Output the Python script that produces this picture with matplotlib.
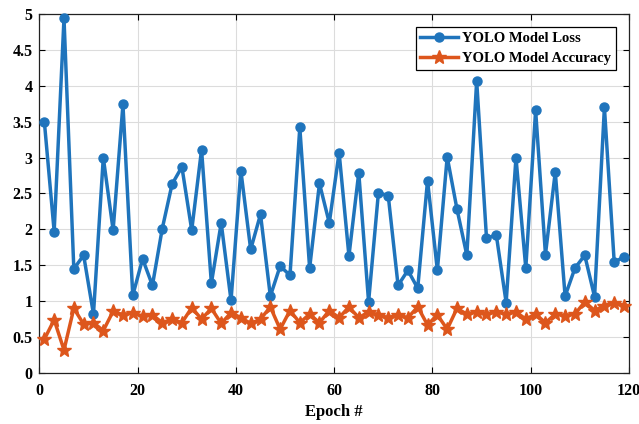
import matplotlib
matplotlib.use("Agg")
import matplotlib.pyplot as plt
from matplotlib.ticker import FuncFormatter

# epochs sampled every second epoch
epochs = list(range(1, 120, 2))

loss = [3.50, 1.97, 4.94, 1.45, 1.64, 0.82, 3.00, 1.99, 3.74, 1.08,
        1.59, 1.22, 2.01, 2.63, 2.87, 1.99, 3.11, 1.25, 2.09, 1.01,
        2.82, 1.72, 2.21, 1.07, 1.49, 1.36, 3.42, 1.46, 2.64, 2.09,
        3.07, 1.63, 2.79, 0.99, 2.51, 2.47, 1.22, 1.43, 1.18, 2.68,
        1.43, 3.01, 2.28, 1.64, 4.07, 1.88, 1.92, 0.98, 3.00, 1.46,
        3.66, 1.65, 2.80, 1.07, 1.46, 1.64, 1.06, 3.70, 1.54, 1.62]

accuracy = [0.47, 0.74, 0.32, 0.90, 0.68, 0.70, 0.59, 0.86, 0.81, 0.84,
            0.79, 0.81, 0.70, 0.75, 0.70, 0.91, 0.75, 0.90, 0.69, 0.84,
            0.77, 0.69, 0.75, 0.92, 0.61, 0.87, 0.70, 0.82, 0.70, 0.87,
            0.77, 0.92, 0.77, 0.85, 0.81, 0.77, 0.81, 0.77, 0.92, 0.67,
            0.81, 0.61, 0.90, 0.82, 0.85, 0.82, 0.85, 0.82, 0.85, 0.75,
            0.82, 0.70, 0.82, 0.80, 0.82, 0.99, 0.87, 0.94, 0.98, 0.94]

blue = "#1F74BC"
orange = "#DD561C"

plt.rcParams["font.family"] = ["Liberation Serif", "DejaVu Serif"]
plt.rcParams["font.weight"] = "bold"

fig = plt.figure(figsize=(6.39, 4.24), dpi=100)
ax = fig.add_axes([0.0617, 0.1203, 0.9226, 0.8467])

ax.plot(epochs, loss, color=blue, lw=2.5, marker="o", ms=6.5,
        label="YOLO Model Loss", clip_on=False, zorder=3)
ax.plot(epochs, accuracy, color=orange, lw=2.5, marker="*", ms=10.5,
        label="YOLO Model Accuracy", clip_on=False, zorder=3)

ax.set_xlim(0, 120)
ax.set_ylim(0, 5)
ax.set_xticks(range(0, 121, 20))
ax.set_yticks([i * 0.5 for i in range(11)])
ax.yaxis.set_major_formatter(FuncFormatter(lambda v, p: "%g" % v))
ax.tick_params(direction="in", top=True, right=True, labelsize=11.5,
               length=4, width=0.8)
ax.tick_params(axis="x", pad=7)
ax.tick_params(axis="y", pad=5)
for lbl in ax.get_xticklabels() + ax.get_yticklabels():
    lbl.set_fontweight("bold")
ax.grid(True, color="#dcdcdc", lw=0.8)
ax.set_axisbelow(True)
for s in ax.spines.values():
    s.set_linewidth(0.9)
    s.set_color("#222222")

ax.set_xlabel("Epoch #", fontsize=12, fontweight="bold", labelpad=4)

leg = ax.legend(loc="upper right", fontsize=10.5, frameon=True, fancybox=False,
                edgecolor="black", framealpha=1, borderpad=0.3,
                handlelength=2.6, handletextpad=0.3, borderaxespad=0.9)
leg.get_frame().set_linewidth(0.9)
for t in leg.get_texts():
    t.set_fontweight("bold")

fig.savefig("out.png", dpi=100)
